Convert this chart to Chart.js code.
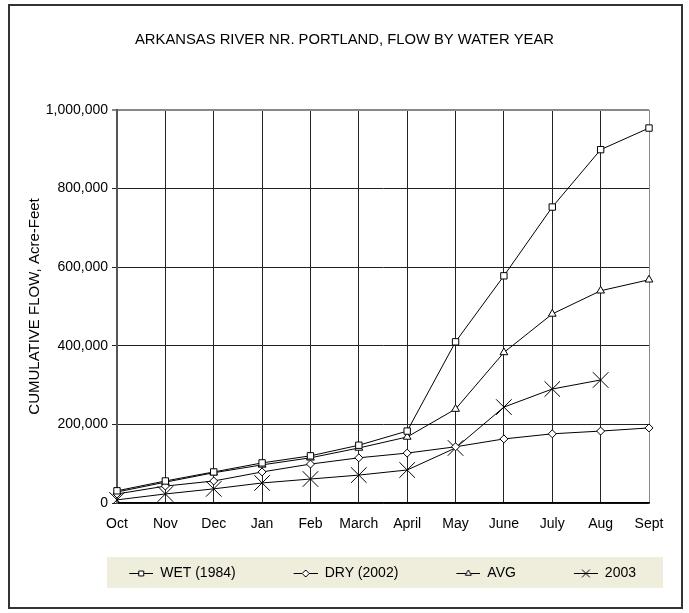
<!DOCTYPE html>
<html>
<head>
<meta charset="utf-8">
<script src="https://cdn.jsdelivr.net/npm/chart.js@4/dist/chart.umd.min.js"></script>
<style>
  body { margin: 0; background: #fff; }
  canvas { display: block; }
</style>
</head>
<body>
<canvas id="flowChart" width="689" height="613"></canvas>
<script>
const months = ['Oct', 'Nov', 'Dec', 'Jan', 'Feb', 'March', 'April', 'May', 'June', 'July', 'Aug', 'Sept'];
const wet1984 = [31000, 56000, 79000, 102000, 120000, 147000, 183000, 410000, 578000, 753000, 899000, 954000];
const dry2002 = [23000, 43000, 56000, 79000, 99000, 115000, 127000, 143000, 163000, 176000, 183000, 191000];
const avgFlow = [28000, 53000, 77000, 97000, 115000, 140000, 168000, 239000, 383000, 481000, 540000, 568000];
const flow2003 = [8000, 23000, 36000, 51000, 61000, 71000, 84000, 140000, 244000, 290000, 313000, null];
const seriesNames = ['WET (1984)', 'DRY (2002)', 'AVG', '2003'];
const yTicks = [0, 200000, 400000, 600000, 800000, 1000000];

const FONT = '"Liberation Sans", Arial, sans-serif';
Chart.defaults.font.family = FONT;
Chart.defaults.color = '#000';

// legend symbol: short line with the marker, blank space on the left keeps items apart
function legendSymbol(style, radius) {
    const c = document.createElement('canvas');
    c.width = 69; c.height = 14;
    const ctx = c.getContext('2d');
    ctx.strokeStyle = '#000';
    ctx.lineWidth = 1;
    ctx.beginPath();
    ctx.moveTo(45, 7.5); ctx.lineTo(69, 7.5);
    ctx.stroke();
    ctx.fillStyle = '#fff';
    Chart.helpers.drawPoint(ctx, { pointStyle: style, radius: radius, borderWidth: 1, rotation: 0 }, 57, 7.5);
    return c;
}

function makeSet(label, data, style, radius) {
    return {
        label: label,
        data: data,
        borderColor: '#000',
        borderWidth: 1,
        pointStyle: style,
        pointRadius: radius,
        pointBorderColor: '#000',
        pointBackgroundColor: '#fff',
        pointBorderWidth: 1,
        tension: 0,
        fill: false,
        legendIcon: legendSymbol(style, style === 'crossRot' ? 5.5 : 3.5)
    };
}

const framePlugin = {
    id: 'frame',
    beforeDraw(chart) {
        const ctx = chart.ctx;
        ctx.save();
        ctx.fillStyle = '#fff';
        ctx.fillRect(0, 0, chart.width, chart.height);
        const lg = chart.legend;
        if (lg && lg.legendHitBoxes && lg.legendHitBoxes.length) {
            const cy = lg.legendHitBoxes[0].top + 7;
            ctx.fillStyle = '#efeedd';
            ctx.fillRect(107, cy - 16, 556, 31);
        }
        ctx.strokeStyle = '#333';
        ctx.lineWidth = 2;
        ctx.strokeRect(9, 5, 673, 603);
        ctx.restore();
    }
};

new Chart(document.getElementById('flowChart'), {
    type: 'line',
    data: {
        labels: months,
        datasets: [
            makeSet(seriesNames[0], wet1984, 'rect', 4.5),
            makeSet(seriesNames[1], dry2002, 'rectRot', 4),
            makeSet(seriesNames[2], avgFlow, 'triangle', 4.5),
            makeSet(seriesNames[3], flow2003, 'crossRot', 11)
        ]
    },
    options: {
        responsive: false,
        animation: false,
        locale: 'en-US',
        layout: { padding: { top: 0, left: 40, right: 40, bottom: 23 } },
        plugins: {
            title: {
                display: true,
                text: 'ARKANSAS RIVER NR. PORTLAND, FLOW BY WATER YEAR',
                font: { size: 14.8, weight: 'normal' },
                color: '#000',
                padding: { top: 31, bottom: 61.2 }
            },
            legend: {
                position: 'bottom',
                align: 'end',
                labels: {
                    usePointStyle: true,
                    pointStyleWidth: 69,
                    padding: 13,
                    font: { size: 14 },
                    color: '#000',
                    generateLabels(chart) {
                        return chart.data.datasets.map((ds, i) => ({
                            text: ds.label,
                            pointStyle: ds.legendIcon,
                            fillStyle: '#fff',
                            strokeStyle: '#000',
                            lineWidth: 0,
                            hidden: false,
                            datasetIndex: i
                        }));
                    }
                }
            },
            tooltip: { enabled: false }
        },
        scales: {
            x: {
                offset: false,
                afterFit(scale) { scale.height = 50; },
                grid: {
                    drawTicks: false,
                    color: ctx => ctx.index === months.length - 1 ? '#888' : '#222',
                    lineWidth: 1
                },
                border: { color: '#000', width: 1.5 },
                ticks: { padding: 13, font: { size: 14 }, color: '#000', maxRotation: 0, autoSkip: false }
            },
            y: {
                min: 0,
                max: 1000000,
                afterFit(scale) { scale.width = 77; },
                afterBuildTicks(scale) { scale.ticks = yTicks.map(v => ({ value: v })); },
                grid: {
                    tickLength: 5,
                    color: ctx => ctx.tick && ctx.tick.value === 1000000 ? '#888' : '#222',
                    lineWidth: ctx => ctx.tick && ctx.tick.value === 1000000 ? 2 : 1
                },
                border: { color: '#555', width: 2 },
                ticks: {
                    padding: 4,
                    font: { size: 14 },
                    color: '#000',
                    callback: v => v.toLocaleString('en-US')
                },
                title: {
                    display: true,
                    text: 'CUMULATIVE FLOW, Acre-Feet',
                    font: { size: 15 },
                    color: '#000',
                    padding: { top: -14, bottom: 0 }
                }
            }
        }
    },
    plugins: [framePlugin]
});
</script>
</body>
</html>
